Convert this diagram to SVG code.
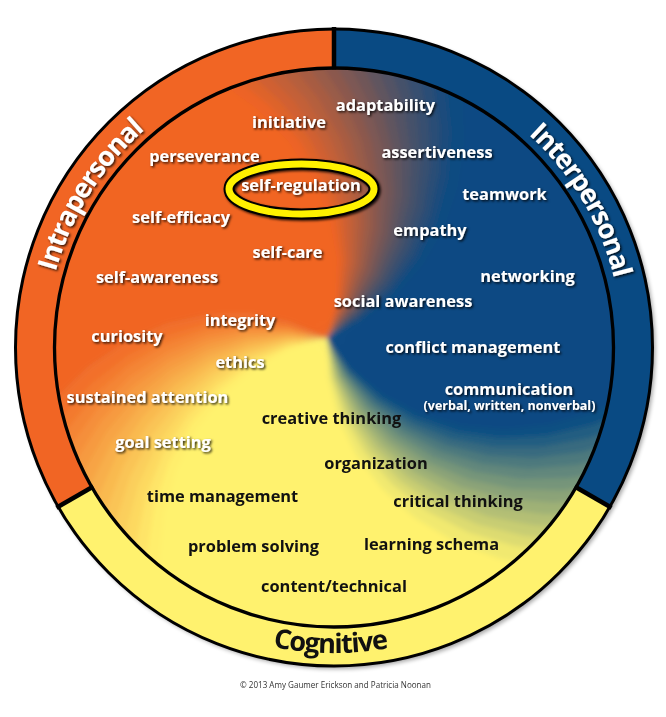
<svg xmlns="http://www.w3.org/2000/svg" xmlns:xlink="http://www.w3.org/1999/xlink" width="666" height="717" viewBox="0 0 666 717">
<defs>
<style>
.w{font-family:"Open Sans","Noto Sans","DejaVu Sans",sans-serif;font-weight:700;font-size:16.4px;fill:#fff;text-anchor:middle;filter:url(#ts)}
.b{font-family:"Open Sans","Noto Sans","DejaVu Sans",sans-serif;font-weight:700;font-size:16.4px;fill:#111;text-anchor:middle}
.ring{font-family:"Open Sans","Noto Sans","DejaVu Sans",sans-serif;font-weight:700;font-size:27px;letter-spacing:-1.2px;text-anchor:middle}
.edge{fill:none;stroke:#000}
</style>
<filter id="ts" x="-10%" y="-40%" width="125%" height="190%"><feDropShadow dx="1.4" dy="1.4" stdDeviation="0.8" flood-color="#000" flood-opacity="0.85"/></filter>
<filter id="sm" x="-5%" y="-5%" width="110%" height="110%"><feGaussianBlur stdDeviation="2.5"/></filter>
<filter id="rs" x="-5%" y="-5%" width="110%" height="110%"><feGaussianBlur stdDeviation="2"/></filter>
<clipPath id="disc"><circle cx="334" cy="347.5" r="279.5"/></clipPath>
<path id="ws" d="M0,0 L39.61,-5.57 L77.62,-19.35 L112.76,-41.04 L143.81,-70.14 L169.61,-105.98 L189.12,-147.76 L201.42,-194.5 L205.69,-245.13 L222.29,-230.19 L214.49,-179.98 L198.97,-134.21 L176.59,-93.89 L148.35,-59.94 L115.35,-33.08 L78.78,-13.89 L39.9,-2.79 Z"/>
<path id="wb" d="M0,0 L38.25,-11.69 L73.64,-31.26 L104.95,-58.18 L131.06,-91.77 L150.94,-131.21 L163.68,-175.52 L168.51,-223.62 L164.81,-274.29 L255.56,-192.58 L240.01,-144.21 L217.51,-101.43 L189.1,-65.11 L155.9,-35.99 L119.11,-14.62 L79.99,-1.4 L39.85,3.49 Z"/>
<path id="pIntra" d="M84.15,491.75 A288.5,288.5 0 0 1 334,59"/>
<path id="pInter" d="M334,59 A288.5,288.5 0 0 1 583.85,491.75"/>
<path id="pCog" d="M69.43,500.25 A305.5,305.5 0 0 0 598.57,500.25"/>
</defs>
<rect width="666" height="717" fill="#fff"/>
<g id="wheel">
<circle cx="336.5" cy="350" r="319" fill="#000" opacity="0.35" filter="url(#rs)"/>
<path fill="#094a83" d="M334,29 A318.5,318.5 0 0 1 609.83,506.75 L576.05,487.25 A279.5,279.5 0 0 0 334,68 Z"/>
<path fill="#fff26e" d="M609.83,506.75 A318.5,318.5 0 0 1 58.17,506.75 L91.95,487.25 A279.5,279.5 0 0 0 576.05,487.25 Z"/>
<path fill="#f16524" d="M58.17,506.75 A318.5,318.5 0 0 1 334,29 L334,68 A279.5,279.5 0 0 0 91.95,487.25 Z"/>
<g clip-path="url(#disc)">
<g filter="url(#sm)">
<g transform="translate(327,338)">
<use href="#wb" transform="rotate(220)" fill="#f16524"/>
<use href="#wb" transform="rotate(240)" fill="#f16524"/>
<use href="#wb" transform="rotate(260)" fill="#f16524"/>
<use href="#wb" transform="rotate(280)" fill="#f16524"/>
<use href="#wb" transform="rotate(-9)" fill="#094a83"/>
<use href="#wb" transform="rotate(11)" fill="#094a83"/>
<use href="#wb" transform="rotate(31)" fill="#094a83"/>
<use href="#wb" transform="rotate(48)" fill="#094a83"/>
<use href="#wb" transform="rotate(104)" fill="#fff26e"/>
<use href="#wb" transform="rotate(124)" fill="#fff26e"/>
<use href="#wb" transform="rotate(144)" fill="#fff26e"/>
<use href="#wb" transform="rotate(160)" fill="#fff26e"/>
<use href="#ws" transform="rotate(-69)" fill="#ec6426"/>
<use href="#ws" transform="rotate(-66)" fill="#de632c"/>
<use href="#ws" transform="rotate(-63)" fill="#d06131"/>
<use href="#ws" transform="rotate(-60)" fill="#c36037"/>
<use href="#ws" transform="rotate(-57)" fill="#b55e3d"/>
<use href="#ws" transform="rotate(-54)" fill="#a75c42"/>
<use href="#ws" transform="rotate(-51)" fill="#995b48"/>
<use href="#ws" transform="rotate(-48)" fill="#8b594e"/>
<use href="#ws" transform="rotate(-45)" fill="#7d5854"/>
<use href="#ws" transform="rotate(-42)" fill="#6f5659"/>
<use href="#ws" transform="rotate(-39)" fill="#61545f"/>
<use href="#ws" transform="rotate(-36)" fill="#535365"/>
<use href="#ws" transform="rotate(-33)" fill="#45516a"/>
<use href="#ws" transform="rotate(-30)" fill="#374f70"/>
<use href="#ws" transform="rotate(-27)" fill="#294e76"/>
<use href="#ws" transform="rotate(-24)" fill="#1c4c7b"/>
<use href="#ws" transform="rotate(-21)" fill="#0e4b81"/>
<use href="#ws" transform="rotate(59)" fill="#104f82"/>
<use href="#ws" transform="rotate(62)" fill="#245d81"/>
<use href="#ws" transform="rotate(65)" fill="#396b7f"/>
<use href="#ws" transform="rotate(68)" fill="#4d797d"/>
<use href="#ws" transform="rotate(71)" fill="#62877b"/>
<use href="#ws" transform="rotate(74)" fill="#76957a"/>
<use href="#ws" transform="rotate(77)" fill="#8ba378"/>
<use href="#ws" transform="rotate(80)" fill="#9fb176"/>
<use href="#ws" transform="rotate(83)" fill="#b4bf74"/>
<use href="#ws" transform="rotate(86)" fill="#c8cd73"/>
<use href="#ws" transform="rotate(89)" fill="#dddb71"/>
<use href="#ws" transform="rotate(92)" fill="#f1e96f"/>
<use href="#ws" transform="rotate(171)" fill="#ffee6c"/>
<use href="#ws" transform="rotate(174)" fill="#fee467"/>
<use href="#ws" transform="rotate(177)" fill="#fdd961"/>
<use href="#ws" transform="rotate(180)" fill="#fbcf5b"/>
<use href="#ws" transform="rotate(183)" fill="#fac456"/>
<use href="#ws" transform="rotate(186)" fill="#f9ba50"/>
<use href="#ws" transform="rotate(189)" fill="#f8af4b"/>
<use href="#ws" transform="rotate(192)" fill="#f7a445"/>
<use href="#ws" transform="rotate(195)" fill="#f69a40"/>
<use href="#ws" transform="rotate(198)" fill="#f58f3a"/>
<use href="#ws" transform="rotate(201)" fill="#f48535"/>
<use href="#ws" transform="rotate(204)" fill="#f37a2f"/>
<use href="#ws" transform="rotate(207)" fill="#f2702a"/>
</g>
</g>
</g>
<circle class="edge" cx="334" cy="347.5" r="279.5" stroke-width="3.3"/>
<circle class="edge" cx="334" cy="347.5" r="318.5" stroke-width="3"/>
<g class="edge" stroke-width="4.5">
<line x1="334" y1="27" x2="334" y2="69.5"/>
<line x1="611.6" y1="507.8" x2="574.7" y2="486.5"/>
<line x1="56.4" y1="507.8" x2="93.3" y2="486.5"/>
</g>
</g>
<g id="connectors"/>
<g id="intrapersonal"><text class="ring" fill="#fff" filter="url(#ts)"><textPath href="#pIntra" startOffset="51.7%">Intrapersonal</textPath></text></g>
<g id="interpersonal"><text class="ring" fill="#fff" filter="url(#ts)"><textPath href="#pInter" startOffset="49.3%">Interpersonal</textPath></text></g>
<g id="cognitive"><text class="ring" fill="#111"><textPath href="#pCog" startOffset="49.4%">Cognitive</textPath></text></g>
<g id="self-regulation-ring">
<ellipse cx="301.5" cy="189" rx="72.5" ry="25" fill="none" stroke="#000" stroke-width="11" filter="url(#ts)"/>
<ellipse cx="301.5" cy="189" rx="72.5" ry="25" fill="none" stroke="#fff200" stroke-width="7"/>
</g>
<g id="n-initiative"><text class="w" x="289" y="128">initiative</text></g>
<g id="n-adaptability"><text class="w" x="385.5" y="111">adaptability</text></g>
<g id="n-perseverance"><text class="w" x="204.5" y="162">perseverance</text></g>
<g id="n-assertiveness"><text class="w" x="437" y="158">assertiveness</text></g>
<g id="n-self-regulation"><text class="w" x="301" y="191">self-regulation</text></g>
<g id="n-self-efficacy"><text class="w" x="181" y="223">self-efficacy</text></g>
<g id="n-teamwork"><text class="w" x="504.5" y="200">teamwork</text></g>
<g id="n-empathy"><text class="w" x="430" y="236">empathy</text></g>
<g id="n-self-care"><text class="w" x="287.5" y="258">self-care</text></g>
<g id="n-self-awareness"><text class="w" x="157" y="283">self-awareness</text></g>
<g id="n-networking"><text class="w" x="527.5" y="282">networking</text></g>
<g id="n-social-awareness"><text class="w" x="403" y="307">social awareness</text></g>
<g id="n-integrity"><text class="w" x="240" y="326">integrity</text></g>
<g id="n-curiosity"><text class="w" x="127" y="342">curiosity</text></g>
<g id="n-conflict-management"><text class="w" x="473" y="353">conflict management</text></g>
<g id="n-ethics"><text class="w" x="240" y="368">ethics</text></g>
<g id="n-sustained-attention"><text class="w" x="147.5" y="403">sustained attention</text></g>
<g id="n-communication"><text class="w" x="509" y="395">communication</text><text class="w" x="509.5" y="410" style="font-size:12.5px">(verbal, written, nonverbal)</text></g>
<g id="n-creative-thinking"><text class="b" x="331.5" y="424">creative thinking</text></g>
<g id="n-goal-setting"><text class="w" x="163" y="448">goal setting</text></g>
<g id="n-organization"><text class="b" x="376" y="469">organization</text></g>
<g id="n-time-management"><text class="b" x="222.5" y="502">time management</text></g>
<g id="n-critical-thinking"><text class="b" x="458" y="507">critical thinking</text></g>
<g id="n-problem-solving"><text class="b" x="253.5" y="552">problem solving</text></g>
<g id="n-learning-schema"><text class="b" x="431.5" y="550">learning schema</text></g>
<g id="n-content-technical"><text class="b" x="334" y="592">content/technical</text></g>
<g id="copyright"><text x="335.5" y="688" font-family="'Open Sans','Liberation Sans',sans-serif" font-size="8.5" fill="#333" text-anchor="middle" textLength="191" lengthAdjust="spacingAndGlyphs">© 2013 Amy Gaumer Erickson and Patricia Noonan</text></g>
</svg>
